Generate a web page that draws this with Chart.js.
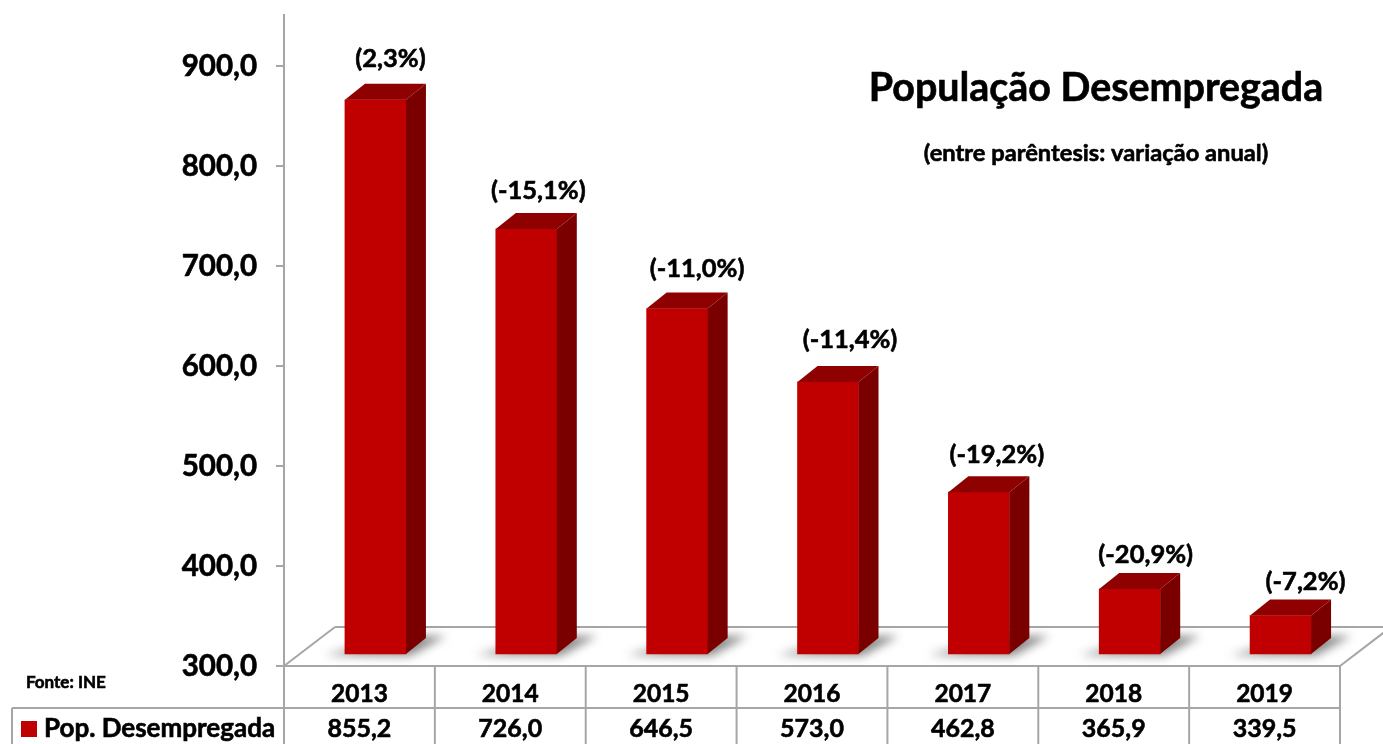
<!DOCTYPE html>
<html lang="pt">
<head>
<meta charset="utf-8">
<title>População Desempregada</title>
<script src="https://cdn.jsdelivr.net/npm/chart.js@4/dist/chart.umd.min.js"></script>
<style>
    html, body { margin: 0; padding: 0; background: #fff; overflow: hidden; }
    canvas { display: block; }
</style>
</head>
<body>
<canvas id="chart" width="1383" height="744"></canvas>
<script>
const categories = ['2013', '2014', '2015', '2016', '2017', '2018', '2019'];
const unemployed = [855.2, 726.0, 646.5, 573.0, 462.8, 365.9, 339.5];
const annualChange = ['(2,3%)', '(-15,1%)', '(-11,0%)', '(-11,4%)', '(-19,2%)', '(-20,9%)', '(-7,2%)'];
const yTicks = [300, 400, 500, 600, 700, 800, 900];

const FONT = 'Lato, Carlito, "Open Sans", sans-serif';
const GREY = '#a6a6a6';
const FRONT = '#c00000';
const SIDE = '#7a0000';
const TOP = '#8f0000';

// bars stand back from the front edge of the floor
const SHIFT_X = 16, SHIFT_Y = -11;
const DEPTH_X = 20, DEPTH_Y = -16;
const FLOOR_X = 51, FLOOR_Y = -39;
const ROW_1 = 708;

// label placement, relative to the bar's front face
const labelNudgeX = [15, 12, 20, 22, 18, 16, 25];
const labelNudgeY = [41, 38, 40, 42, 37, 34, 34];

function fmt(v) {
    return v.toFixed(1).replace('.', ',');
}

function line(ctx, x1, y1, x2, y2) {
    ctx.beginPath();
    ctx.moveTo(x1, y1);
    ctx.lineTo(x2, y2);
    ctx.stroke();
}

function poly(ctx, pts) {
    ctx.beginPath();
    pts.forEach((p, i) => i ? ctx.lineTo(p[0], p[1]) : ctx.moveTo(p[0], p[1]));
    ctx.closePath();
    ctx.fill();
}

function text(ctx, str, x, y, font, align) {
    ctx.font = font;
    ctx.textAlign = align || 'center';
    ctx.textBaseline = 'middle';
    ctx.fillStyle = '#000';
    ctx.strokeStyle = '#000';
    ctx.lineWidth = 0.6;
    ctx.fillText(str, x, y);
    ctx.strokeText(str, x, y);
}

const scene3d = {
    id: 'scene3d',
    beforeDatasetsDraw(chart) {
        const { ctx, chartArea: a } = chart;
        ctx.save();
        // floor
        ctx.strokeStyle = GREY;
        ctx.lineWidth = 2;
        line(ctx, a.left, a.bottom, a.left + FLOOR_X, a.bottom + FLOOR_Y);
        line(ctx, a.left + FLOOR_X, a.bottom + FLOOR_Y, 1383, a.bottom + FLOOR_Y);
        line(ctx, a.right, a.bottom, a.right + FLOOR_X, a.bottom + FLOOR_Y);
        // bar shadows
        ctx.filter = 'blur(5px)';
        ctx.fillStyle = 'rgba(90,90,90,0.7)';
        chart.getDatasetMeta(0).data.forEach(b => {
            const r = b.x + SHIFT_X + b.width / 2, l = b.x + SHIFT_X - b.width / 2;
            const y = b.base + SHIFT_Y;
            poly(ctx, [[l - 20, y + 1], [r + 4, y + 2], [r + 40, y - 18], [r, y - 18]]);
        });
        ctx.restore();
    },
    beforeDatasetDraw(chart) {
        chart.ctx.save();
        chart.ctx.translate(SHIFT_X, SHIFT_Y);
    },
    afterDatasetDraw(chart) {
        chart.ctx.restore();
    },
    afterDatasetsDraw(chart) {
        const ctx = chart.ctx;
        ctx.save();
        chart.getDatasetMeta(0).data.forEach((b, i) => {
            const l = b.x + SHIFT_X - b.width / 2, r = b.x + SHIFT_X + b.width / 2;
            const t = b.y + SHIFT_Y, bot = b.base + SHIFT_Y;
            ctx.fillStyle = SIDE;
            poly(ctx, [[r, t], [r + DEPTH_X, t + DEPTH_Y], [r + DEPTH_X, bot + DEPTH_Y], [r, bot]]);
            ctx.fillStyle = TOP;
            poly(ctx, [[l, t], [l + DEPTH_X, t + DEPTH_Y], [r + DEPTH_X, t + DEPTH_Y], [r, t]]);
            text(ctx, annualChange[i], b.x + SHIFT_X + labelNudgeX[i], t - labelNudgeY[i], 'bold 25.5px ' + FONT);
        });
        ctx.restore();
    },
    afterDraw(chart) {
        const { ctx, chartArea: a, scales } = chart;
        ctx.save();
        // data table under the axis
        ctx.strokeStyle = GREY;
        ctx.lineWidth = 2;
        line(ctx, a.left, a.bottom, a.right, a.bottom);
        line(ctx, 12, ROW_1, a.right, ROW_1);
        line(ctx, 12, ROW_1, 12, 744);
        const step = (a.right - a.left) / categories.length;
        for (let i = 0; i <= categories.length; i++) {
            line(ctx, a.left + step * i, a.bottom, a.left + step * i, 744);
        }
        unemployed.forEach((v, i) => {
            text(ctx, fmt(v), scales.x.getPixelForValue(i), 729, 'bold 25px ' + FONT);
        });
        ctx.fillStyle = FRONT;
        ctx.fillRect(21, 721, 16, 16);
        text(ctx, 'Pop. Desempregada', 44, 729, 'bold 26px ' + FONT, 'left');
        text(ctx, 'Fonte: INE', 26, 683, 'bold 17px ' + FONT, 'left');
        // title block
        text(ctx, 'População Desempregada', 1096, 88, 'bold 39.4px ' + FONT);
        text(ctx, '(entre parêntesis: variação anual)', 1096, 153, 'bold 23.7px ' + FONT);
        ctx.restore();
    }
};

new Chart(document.getElementById('chart'), {
    type: 'bar',
    data: {
        labels: categories,
        datasets: [{
            label: 'Pop. Desempregada',
            data: unemployed,
            base: 300,
            backgroundColor: FRONT,
            barThickness: 61,
            clip: false
        }]
    },
    options: {
        responsive: false,
        animation: false,
        layout: { padding: { top: 15, right: 43 } },
        plugins: { legend: { display: false }, tooltip: { enabled: false } },
        scales: {
            x: {
                grid: { display: false },
                border: { display: false },
                afterFit(s) { s.height = 78; },
                ticks: {
                    color: '#000',
                    padding: 5,
                    maxRotation: 0,
                    textStrokeColor: '#000',
                    textStrokeWidth: 0.6,
                    font: { family: FONT, size: 24.5, weight: 'bold' }
                }
            },
            y: {
                min: 300,
                max: 951,
                afterBuildTicks(s) { s.ticks = yTicks.map(value => ({ value })); },
                afterFit(s) { s.width = 284; s.paddingTop = 0; s.paddingBottom = 0; },
                grid: { drawOnChartArea: false, color: GREY, lineWidth: 2, tickLength: 8 },
                border: { color: GREY, width: 2 },
                ticks: {
                    color: '#000',
                    padding: 19,
                    textStrokeColor: '#000',
                    textStrokeWidth: 0.6,
                    font: { family: FONT, size: 29.5, weight: 'bold' },
                    callback: v => fmt(v)
                }
            }
        }
    },
    plugins: [scene3d]
});
</script>
</body>
</html>
